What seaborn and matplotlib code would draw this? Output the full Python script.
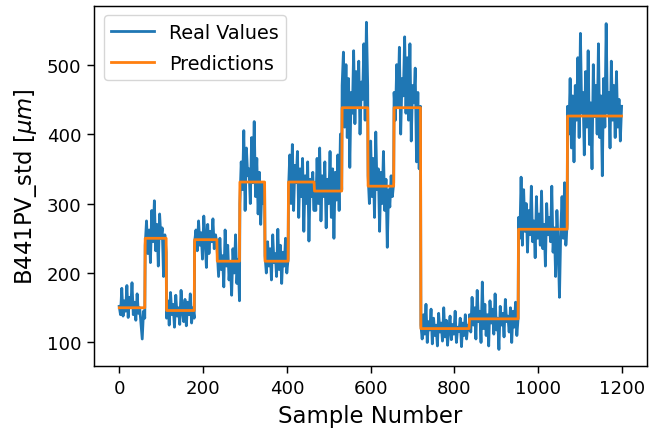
import numpy as np
import pandas as pd
import matplotlib
matplotlib.use("Agg")
import matplotlib.pyplot as plt
import seaborn as sns

# Segment boundaries (sample numbers) and predicted levels
seg_starts = [0, 62, 113, 180, 234, 288, 348, 404, 466, 532, 594, 656, 720, 836, 953, 1070]
seg_ends = [62, 113, 180, 234, 288, 348, 404, 466, 532, 594, 656, 720, 836, 953, 1070, 1200]
pred_levels = [150, 250, 146, 248, 217, 331, 217, 331, 318, 438, 325, 438, 120, 134, 263, 426]

# Real values read per segment
real_segments = [
    [152, 140, 178, 138, 160, 145, 182, 136, 165, 150, 186, 140, 158, 132, 170, 142, 150, 128, 105, 145, 135],
    [240, 275, 228, 262, 215, 290, 245, 304, 232, 270, 210, 285, 250, 265, 195, 255, 230],
    [135, 160, 125, 172, 140, 155, 122, 168, 138, 150, 126, 175, 145, 130, 162, 124, 158, 140, 170, 128, 150, 135],
    [245, 262, 232, 275, 240, 258, 220, 282, 250, 208, 270, 228, 260, 245, 278, 235, 255, 242],
    [230, 195, 250, 205, 225, 180, 262, 210, 240, 190, 215, 168, 235, 200, 255, 185, 220, 160],
    [300, 360, 320, 405, 290, 380, 340, 350, 300, 395, 330, 418, 310, 365, 285, 345, 270, 330, 300, 320],
    [225, 200, 245, 210, 235, 190, 255, 215, 228, 195, 263, 205, 240, 185, 230, 210, 250, 200, 220],
    [320, 370, 300, 385, 290, 355, 330, 375, 280, 350, 310, 365, 260, 340, 300, 360, 246, 335, 310, 345, 290],
    [330, 290, 365, 300, 380, 275, 340, 310, 360, 265, 335, 300, 375, 280, 350, 250, 345, 305, 370, 290, 400, 320],
    [470, 518, 410, 500, 395, 480, 352, 460, 430, 520, 415, 490, 440, 505, 400, 475, 450, 530, 420, 561, 470],
    [340, 300, 390, 310, 365, 280, 403, 320, 350, 260, 345, 300, 375, 290, 335, 237, 320, 295, 340, 310, 330],
    [460, 420, 500, 440, 525, 400, 480, 455, 540, 430, 510, 420, 530, 390, 470, 445, 495, 360, 460, 350, 440],
    [125, 105, 140, 112, 155, 100, 130, 118, 148, 98, 135, 110, 125, 95, 142, 115, 128, 102, 150, 108,
     132, 96, 120, 138, 104, 126, 112, 145, 100, 122, 116, 135, 94, 128, 110, 140, 105, 125, 118],
    [140, 115, 165, 125, 150, 105, 175, 130, 145, 100, 187, 120, 155, 110, 140, 95, 160, 128, 148, 112,
     170, 118, 135, 90, 152, 125, 142, 108, 162, 130, 138, 115, 150, 100, 145, 122, 158, 110, 135],
    [280, 250, 338, 240, 320, 260, 300, 230, 290, 255, 325, 245, 275, 222, 310, 250, 285, 240, 318, 235,
     270, 210, 300, 255, 280, 245, 325, 230, 265, 195, 290, 240, 165, 260, 310, 250, 330, 240, 270],
    [440, 400, 480, 380, 455, 360, 470, 420, 510, 395, 545, 430, 460, 370, 490, 410, 520, 385, 445, 350,
     500, 425, 470, 400, 530, 395, 455, 340, 480, 410, 559, 430, 460, 380, 505, 420, 470, 395, 490, 410,
     450, 390, 440],
]

real_x = np.concatenate([np.linspace(s, e - 1, len(v)) for s, e, v in zip(seg_starts, seg_ends, real_segments)])
real_y = np.concatenate([np.array(v, dtype=float) for v in real_segments])
pred_x = np.arange(0, 1200)
pred_y = np.repeat(pred_levels, np.array(seg_ends) - np.array(seg_starts))

df_real = pd.DataFrame({"x": real_x, "y": real_y})
df_pred = pd.DataFrame({"x": pred_x, "y": pred_y})

fig, ax = plt.subplots(figsize=(6.49, 4.31), dpi=100)
sns.lineplot(data=df_real, x="x", y="y", ax=ax, color="#1f77b4", linewidth=2.0,
             label="Real Values", estimator=None, sort=False)
sns.lineplot(data=df_pred, x="x", y="y", ax=ax, color="#ff7f0e", linewidth=2.0,
             label="Predictions", estimator=None, sort=False)

ax.set_xticks([0, 200, 400, 600, 800, 1000, 1200])
ax.set_yticks([100, 200, 300, 400, 500])
ax.tick_params(labelsize=13.1, length=4.7, width=1.05, pad=4.6)
for sp in ax.spines.values():
    sp.set_linewidth(1.05)
ax.set_xlabel("Sample Number", fontsize=16.4, labelpad=5.5)
ax.set_ylabel(r"B441PV_std [$\mu m$]", fontsize=16.4, labelpad=5.2)
ax.legend(loc="upper left", fontsize=13.8, handlelength=2.2, labelspacing=0.6)

fig.subplots_adjust(left=0.145, right=0.9965, top=0.984, bottom=0.149)
fig.savefig("out.png", dpi=100)
